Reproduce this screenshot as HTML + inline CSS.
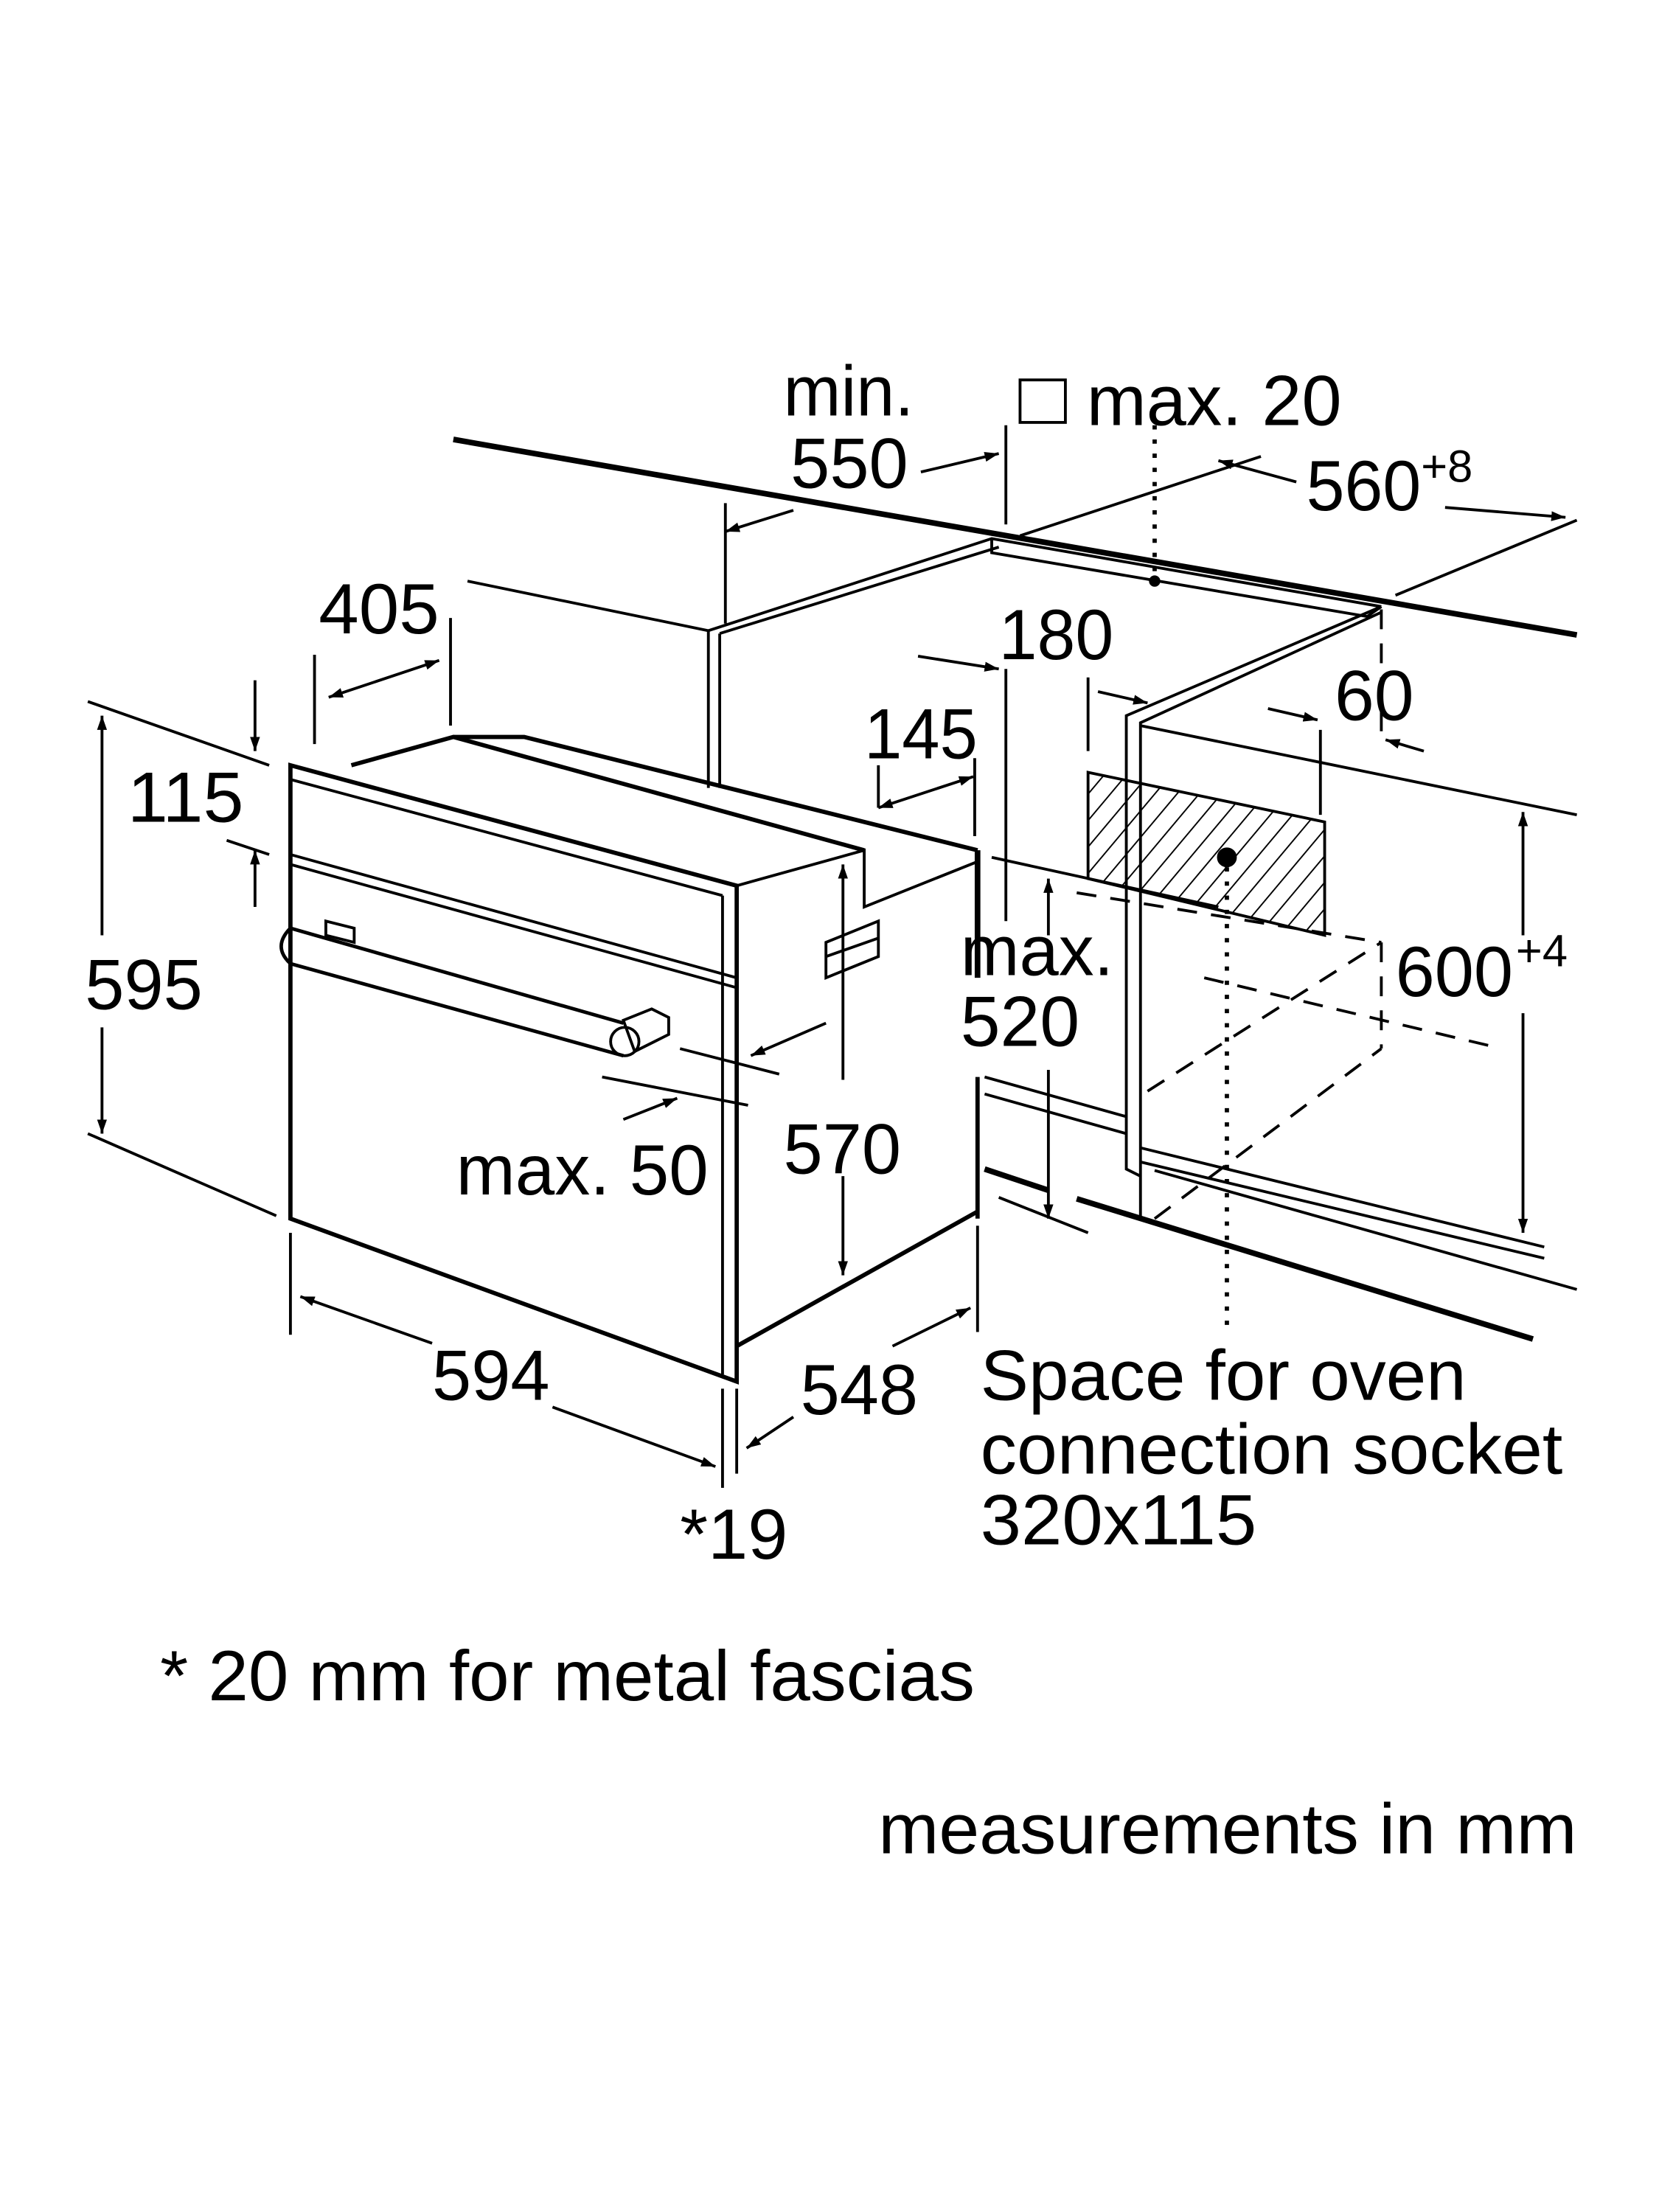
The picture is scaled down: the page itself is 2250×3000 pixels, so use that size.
<!DOCTYPE html>
<html><head><style>html,body{margin:0;padding:0;background:#fff}svg{display:block}</style></head>
<body>
<svg width="2250" height="3000" viewBox="0 0 1171 1561" xmlns="http://www.w3.org/2000/svg">
<defs>
<marker id="a" viewBox="0 0 10 10" refX="10" refY="5" markerWidth="10" markerHeight="10" orient="auto-start-reverse" markerUnits="userSpaceOnUse"><path d="M0,1.5 L10,5 L0,8.5 z" fill="#000"/></marker>
<pattern id="h" width="12" height="12" patternUnits="userSpaceOnUse" patternTransform="rotate(40)"><line x1="0" y1="0" x2="0" y2="12" stroke="#000" stroke-width="2"/></pattern>
</defs>
<g fill="none" stroke="#000" stroke-width="2" stroke-linecap="butt">
<line x1="320" y1="310" x2="1113" y2="448" stroke-width="4"/>
<polyline points="500,445 500,556"/>
<polyline points="508,447 508,556"/>
<polyline points="500,445 700,380 975,428"/>
<polyline points="508,447 705,386"/>
<polyline points="700,380 700,390 965,435 975,428"/>
<polyline points="975,428 795,505 795,825 805,830"/>
<polyline points="975,432 805,510 805,860"/>
<line x1="805" y1="512" x2="1113" y2="575"/>
<line x1="330" y1="410" x2="500" y2="445"/>
<polyline points="695,760 795,788"/>
<polyline points="695,772 795,800"/>
<polyline points="805,810 1090,880"/>
<polyline points="805,820 1090,888"/>
<polyline points="815,826 1113,910"/>
<line x1="695" y1="825" x2="740" y2="840" stroke-width="4"/>
<line x1="760" y1="846" x2="1082" y2="945" stroke-width="4"/>
<line x1="705" y1="845" x2="768" y2="870"/>
<g stroke-dasharray="14,10">
<line x1="760" y1="630" x2="975" y2="665"/>
<line x1="850" y1="690" x2="1060" y2="740"/>
<line x1="810" y1="770" x2="975" y2="665"/>
<line x1="815" y1="860" x2="975" y2="740"/>
<line x1="975" y1="665" x2="975" y2="740"/>
<line x1="975" y1="430" x2="975" y2="520"/>
</g>
<polygon points="768,545 935,580 935,660 768,620" fill="url(#h)"/>
<circle cx="866" cy="605" r="6" fill="#000"/>
<line x1="866" y1="612" x2="866" y2="935" stroke-dasharray="3,7" stroke-width="3"/>
<line x1="815" y1="300" x2="815" y2="410" stroke-dasharray="3,7" stroke-width="3"/>
<circle cx="815" cy="410" r="3" fill="#000"/>
<polygon points="205,540 520,625 520,975 205,860" stroke-width="3"/>
<line x1="205" y1="550" x2="510" y2="632"/>
<line x1="205" y1="603" x2="520" y2="690"/>
<line x1="205" y1="610" x2="520" y2="697"/>
<line x1="510" y1="632" x2="510" y2="970"/>
<polyline points="248,540 320,520 610,600" stroke-width="3"/>
<polyline points="320,520 370,520 690,600" stroke-width="3"/>
<polyline points="520,625 610,600 610,640 690,608"/>
<line x1="690" y1="600" x2="690" y2="690" stroke-width="4"/>
<line x1="690" y1="760" x2="690" y2="860" stroke-width="3"/>
<line x1="690" y1="855" x2="520" y2="950" stroke-width="3"/>
<polygon points="583,665 620,650 620,675 583,690"/>
<line x1="583" y1="675" x2="620" y2="662"/>
<path d="M205,655 Q192,668 205,680" stroke-width="2.5"/>
<line x1="205" y1="655" x2="440" y2="722" stroke-width="2.5"/>
<line x1="205" y1="680" x2="440" y2="745" stroke-width="2.5"/>
<polygon points="230,650 250,655 250,665 230,660"/>
<polygon points="440,720 460,712 472,718 472,730 448,742"/>
<circle cx="441" cy="735" r="10"/>
<line x1="180" y1="480" x2="180" y2="530" marker-end="url(#a)"/>
<line x1="180" y1="640" x2="180" y2="600" marker-end="url(#a)"/>
<line x1="62" y1="495" x2="190" y2="540"/>
<line x1="160" y1="593" x2="190" y2="603"/>
<line x1="62" y1="800" x2="195" y2="858"/>
<line x1="72" y1="505" x2="72" y2="660" marker-start="url(#a)"/>
<line x1="72" y1="725" x2="72" y2="800" marker-end="url(#a)"/>
<line x1="222" y1="462" x2="222" y2="525"/>
<line x1="318" y1="436" x2="318" y2="512"/>
<line x1="232" y1="492" x2="310" y2="466" marker-start="url(#a)" marker-end="url(#a)"/>
<line x1="512" y1="355" x2="512" y2="440"/>
<line x1="710" y1="300" x2="710" y2="370"/>
<line x1="512" y1="375" x2="560" y2="360" marker-start="url(#a)"/>
<line x1="650" y1="333" x2="705" y2="320" marker-end="url(#a)"/>
<line x1="720" y1="378" x2="890" y2="322"/>
<line x1="860" y1="325" x2="915" y2="340" marker-start="url(#a)"/>
<line x1="1020" y1="358" x2="1105" y2="365" marker-end="url(#a)"/>
<line x1="985" y1="420" x2="1113" y2="367"/>
<line x1="648" y1="463" x2="705" y2="472" marker-end="url(#a)"/>
<line x1="710" y1="472" x2="710" y2="650"/>
<line x1="768" y1="478" x2="768" y2="530"/>
<line x1="775" y1="488" x2="810" y2="496" marker-end="url(#a)"/>
<line x1="620" y1="570" x2="687" y2="548" marker-start="url(#a)" marker-end="url(#a)"/>
<line x1="620" y1="540" x2="620" y2="570"/>
<line x1="688" y1="535" x2="688" y2="590"/>
<line x1="895" y1="500" x2="930" y2="508" marker-end="url(#a)"/>
<line x1="932" y1="515" x2="932" y2="575"/>
<line x1="1005" y1="530" x2="978" y2="522" marker-end="url(#a)"/>
<line x1="1075" y1="573" x2="1075" y2="660" marker-start="url(#a)"/>
<line x1="1075" y1="715" x2="1075" y2="870" marker-end="url(#a)"/>
<line x1="740" y1="660" x2="740" y2="620" marker-end="url(#a)"/>
<line x1="740" y1="755" x2="740" y2="860" marker-end="url(#a)"/>
<line x1="700" y1="605" x2="860" y2="640"/>
<line x1="595" y1="762" x2="595" y2="610" marker-end="url(#a)"/>
<line x1="595" y1="830" x2="595" y2="900" marker-end="url(#a)"/>
<line x1="480" y1="740" x2="550" y2="758"/>
<line x1="425" y1="760" x2="528" y2="780"/>
<line x1="583" y1="722" x2="530" y2="745" marker-end="url(#a)"/>
<line x1="440" y1="790" x2="478" y2="775" marker-end="url(#a)"/>
<line x1="205" y1="870" x2="205" y2="942"/>
<line x1="510" y1="980" x2="510" y2="1050"/>
<line x1="520" y1="980" x2="520" y2="1040"/>
<line x1="690" y1="865" x2="690" y2="940"/>
<line x1="212" y1="915" x2="305" y2="948" marker-start="url(#a)"/>
<line x1="390" y1="993" x2="505" y2="1035" marker-end="url(#a)"/>
<line x1="560" y1="1000" x2="527" y2="1022" marker-end="url(#a)"/>
<line x1="630" y1="950" x2="685" y2="923" marker-end="url(#a)"/>
<rect x="720" y="268" width="32" height="30" stroke-width="2"/>
</g>
<g font-family="'Liberation Sans Narrow','Liberation Sans',sans-serif" font-size="50" fill="#000" lengthAdjust="spacingAndGlyphs">
<text x="553" y="293" textLength="92" lengthAdjust="spacingAndGlyphs">min.</text>
<text x="558" y="344" textLength="83" lengthAdjust="spacingAndGlyphs">550</text>
<text x="767" y="300" textLength="180" lengthAdjust="spacingAndGlyphs">max. 20</text>
<text x="922" y="360" textLength="81" lengthAdjust="spacingAndGlyphs">560</text><text x="1003" y="340" font-size="32">+8</text>
<text x="225" y="447" textLength="85" lengthAdjust="spacingAndGlyphs">405</text>
<text x="705" y="465" textLength="81" lengthAdjust="spacingAndGlyphs">180</text>
<text x="610" y="535" textLength="80" lengthAdjust="spacingAndGlyphs">145</text>
<text x="942" y="508" textLength="56" lengthAdjust="spacingAndGlyphs">60</text>
<text x="90" y="580" textLength="82" lengthAdjust="spacingAndGlyphs">115</text>
<text x="60" y="712" textLength="83" lengthAdjust="spacingAndGlyphs">595</text>
<text x="678" y="688" textLength="108" lengthAdjust="spacingAndGlyphs">max.</text>
<text x="678" y="738" textLength="84" lengthAdjust="spacingAndGlyphs">520</text>
<text x="985" y="703" textLength="83" lengthAdjust="spacingAndGlyphs">600</text><text x="1070" y="682" font-size="32">+4</text>
<text x="553" y="828" textLength="83" lengthAdjust="spacingAndGlyphs">570</text>
<text x="322" y="843" textLength="178" lengthAdjust="spacingAndGlyphs">max. 50</text>
<text x="305" y="988" textLength="83" lengthAdjust="spacingAndGlyphs">594</text>
<text x="565" y="998" textLength="83" lengthAdjust="spacingAndGlyphs">548</text>
<text x="480" y="1100" textLength="76" lengthAdjust="spacingAndGlyphs">*19</text>
<text x="692" y="988" textLength="343" lengthAdjust="spacingAndGlyphs">Space for oven</text>
<text x="692" y="1040" textLength="411" lengthAdjust="spacingAndGlyphs">connection socket</text>
<text x="692" y="1090" textLength="195" lengthAdjust="spacingAndGlyphs">320x115</text>
<text x="113" y="1200" textLength="575" lengthAdjust="spacingAndGlyphs">* 20 mm for metal fascias</text>
<text x="620" y="1308" textLength="493" lengthAdjust="spacingAndGlyphs">measurements in mm</text>
</g>
</svg>
</body></html>
